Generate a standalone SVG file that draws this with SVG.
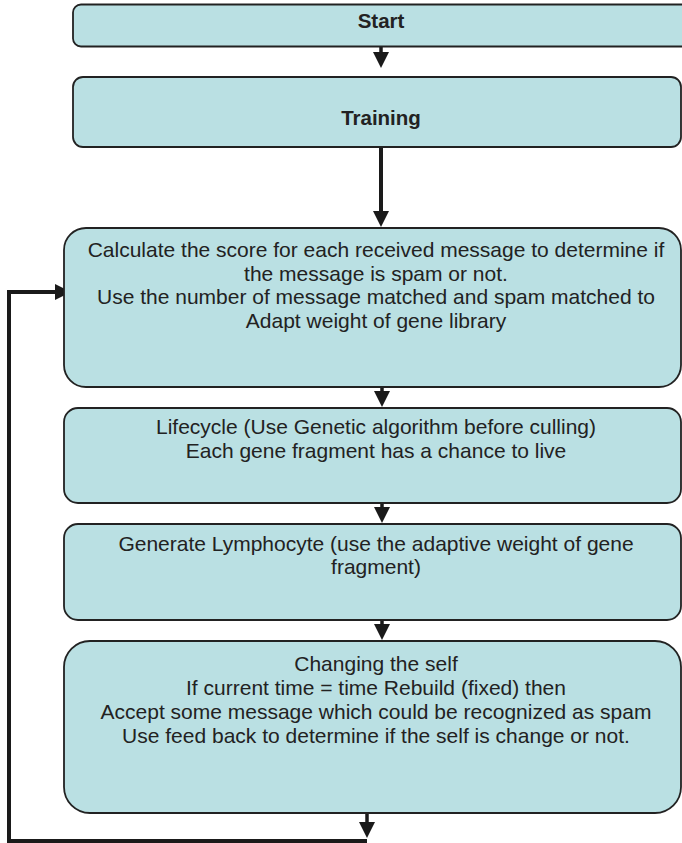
<svg xmlns="http://www.w3.org/2000/svg" width="682" height="843" viewBox="0 0 682 843">
<defs>
<marker id="ah" viewBox="0 0 16 16" refX="0" refY="8" markerWidth="16" markerHeight="16" markerUnits="userSpaceOnUse" orient="auto"><path d="M0,0 L16,8 L0,16 z" fill="#1a1a1a"/></marker>
</defs>
<style>
.box{fill:#bae0e3;stroke:#222;stroke-width:1.8}
.t{font-family:"Liberation Sans",Arial,sans-serif;font-size:21px;fill:#222;text-anchor:middle}
.b{font-weight:bold;font-size:20.5px}
.c{fill:none;stroke:#1a1a1a;stroke-width:3.5;stroke-linejoin:miter}
</style>
<g id="connectors">
<path class="c" d="M381,47 V52" marker-end="url(#ah)"/>
<path class="c" d="M381,147 V211" style="stroke-width:4" marker-end="url(#ah)"/>
<path class="c" d="M382,387 V391" marker-end="url(#ah)"/>
<path class="c" d="M382,503 V507" marker-end="url(#ah)"/>
<path class="c" d="M382,620 V624" marker-end="url(#ah)"/>
<path class="c" d="M367,813 V822" marker-end="url(#ah)"/>
<path class="c" d="M367,841 H9 V292 H55" style="stroke-width:4" marker-end="url(#ah)"/>
</g>
<g id="start">
<rect class="box" x="73" y="4.5" width="620" height="42" rx="8"/>
<text class="t b" x="381" y="28">Start</text>
</g>
<g id="training">
<rect class="box" x="73" y="77" width="608" height="70" rx="10"/>
<text class="t b" x="381" y="125">Training</text>
</g>
<g id="calculate">
<rect class="box" x="64" y="228" width="617" height="159" rx="22"/>
<text class="t" x="376" y="257">Calculate the score for each received message to determine if</text>
<text class="t" x="376" y="280.5">the message is spam or not.</text>
<text class="t" x="376" y="304">Use the number of message matched and spam matched to</text>
<text class="t" x="376" y="327.5">Adapt weight of gene library</text>
</g>
<g id="lifecycle">
<rect class="box" x="64" y="408" width="617" height="95" rx="14"/>
<text class="t" x="376" y="434">Lifecycle (Use Genetic algorithm before culling)</text>
<text class="t" x="376" y="458">Each gene fragment has a chance to live</text>
</g>
<g id="generate">
<rect class="box" x="64" y="524" width="617" height="96" rx="14"/>
<text class="t" x="376" y="551">Generate Lymphocyte (use the adaptive weight of gene</text>
<text class="t" x="376" y="574">fragment)</text>
</g>
<g id="changing">
<rect class="box" x="64" y="641" width="617" height="172" rx="26"/>
<text class="t" x="376" y="671">Changing the self</text>
<text class="t" x="376" y="695">If current time = time Rebuild (fixed) then</text>
<text class="t" x="376" y="719">Accept some message which could be recognized as spam</text>
<text class="t" x="376" y="743">Use feed back to determine if the self is change or not.</text>
</g>
</svg>
